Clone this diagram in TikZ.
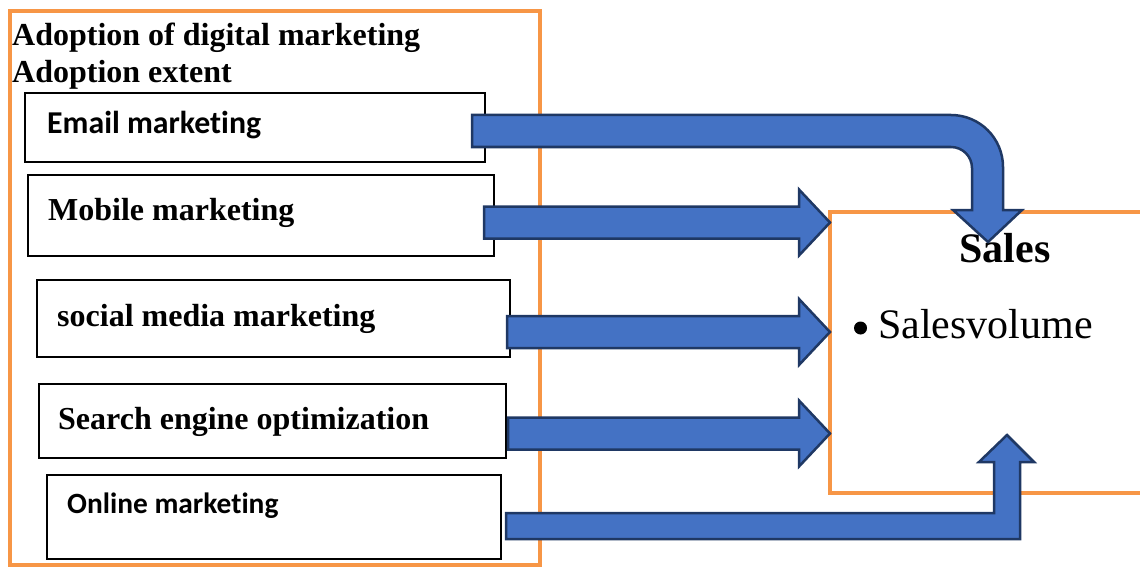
\documentclass[tikz,border=0pt]{standalone}
\usepackage{fontspec}
\setmainfont{Liberation Serif}
\newfontfamily\calibri[Ligatures=NoCommon]{Carlito}
\usetikzlibrary{calc}

\definecolor{frameorange}{HTML}{F79646}
\definecolor{arrowblue}{HTML}{4472C4}
\definecolor{arrowedge}{HTML}{1F3864}

\tikzset{
  frame/.style={draw=frameorange, line width=4pt, anchor=north west, inner sep=0pt, outer sep=0pt},
  factor/.style={draw=black, line width=1.5pt, anchor=north west, inner sep=0pt, outer sep=0pt},
  lbl/.style={anchor=base west, inner sep=0pt, font=\fontsize{32}{36}\selectfont\bfseries},
  cal/.style={anchor=base west, inner sep=0pt, font=\calibri\fontsize{31.8}{36}\selectfont\bfseries},
  blk/.style={fill=arrowblue, draw=arrowedge, line width=2.5pt, line join=miter},
}

% straight block arrow, tail (#1) to tip (#2)
\newcommand{\blockarrow}[2]{%
  \draw[blk] let \p1=(#1), \p2=(#2) in
    (\x1,\y1+16pt) -- (\x2-31pt,\y1+16pt) -- (\x2-31pt,\y1+33pt) -- (\x2,\y2)
    -- (\x2-31pt,\y1-33pt) -- (\x2-31pt,\y1-16pt) -- (\x1,\y1-16pt) -- cycle;}

\begin{document}
\begin{tikzpicture}[x=1pt,y=-1pt]
  \useasboundingbox (0,0) rectangle (1140,567);

  % outer frames
  \node[frame, minimum width=530, minimum height=554] (adoption) at (10,11) {};
  \node[anchor=north west, inner sep=0pt, outer sep=0pt, minimum width=310, minimum height=281] (sales) at (830,212) {};
  \draw[draw=frameorange, line width=4pt] (sales.north east) -- (sales.north west) -- (sales.south west) -- (sales.south east);

  \node[lbl] (title)  at (12,46) {Adoption of digital marketing};
  \node[lbl] (extent) at (12,83) {Adoption extent};

  % the five channels
  \node[factor, minimum width=460, minimum height=69] (email)  at (25,93)  {};
  \node[factor, minimum width=466, minimum height=81] (mobile) at (28,175) {};
  \node[factor, minimum width=473, minimum height=77] (social) at (37,280) {};
  \node[factor, minimum width=467, minimum height=74] (search) at (39,384) {};
  \node[factor, minimum width=454, minimum height=84] (online) at (47,475) {};

  \node[cal] (email-txt)  at (47,133) {Email marketing};
  \node[lbl] (mobile-txt) at (48,220) {Mobile marketing};
  \node[lbl] (social-txt) at (57,326) {social media marketing};
  \node[lbl] (search-txt) at (58,429) {Search engine optimization};
  \node[cal, font=\calibri\fontsize{29.4}{34}\selectfont\bfseries] (online-txt) at (67,513) {Online marketing};

  \node[anchor=base, inner sep=0pt, font=\fontsize{42}{48}\selectfont\bfseries] (sales-txt) at (1005,262) {Sales};
  \node[circle, fill=black, inner sep=0pt, minimum size=13] (bullet) at (860.5,328) {};
  \node[anchor=base west, inner sep=0pt, font=\fontsize{42}{48}\selectfont] (volume) at (878,338) {Salesvolume};

  % arrow tails and tips
  \coordinate (email-out)  at (472,131);
  \coordinate (email-in)   at (988,242);
  \coordinate (mobile-out) at (484,222.5);
  \coordinate (social-out) at (507,332);
  \coordinate (search-out) at (508,433.5);
  \coordinate (online-out) at (506,526);
  \coordinate (online-in)  at (1007,435);

  \foreach \from in {mobile-out, social-out, search-out}
    {\blockarrow{\from}{sales.west |- \from}}

  \draw[blk] ($(email-out)+(0,-16)$) -- (951,115) arc[start angle=90, end angle=0, radius=52pt]
    -- (1003,210) -- (1022,210) -- (email-in) -- (953,210) -- (972,210) -- (972,168)
    arc[start angle=0, end angle=90, radius=21pt] -- ($(email-out)+(0,16)$) -- cycle;

  \draw[blk] ($(online-out)+(0,-13)$) -- (994,513) -- (994,462) -- (979,462) -- (online-in)
    -- (1034,462) -- (1020,462) -- (1020,539) -- ($(online-out)+(0,13)$) -- cycle;
\end{tikzpicture}
\end{document}
